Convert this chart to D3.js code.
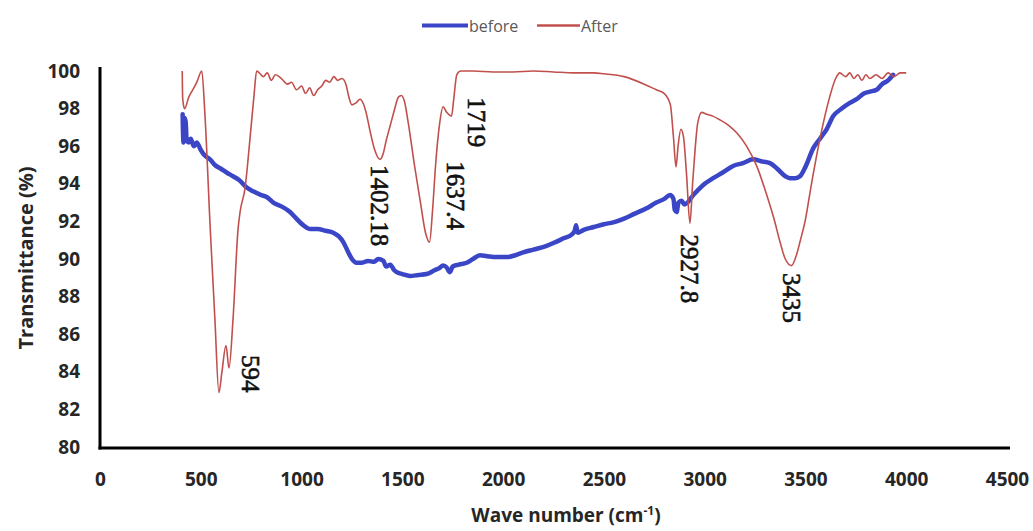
<!DOCTYPE html>
<html>
<head>
<meta charset="utf-8">
<script src="https://cdn.jsdelivr.net/npm/d3@7"></script>
<style>
  html, body { margin: 0; padding: 0; background: #fff; }
  svg { display: block; }
</style>
</head>
<body>
<svg id="chart" width="1033" height="531"></svg>
<script>
// ---- data ----
const seriesNames = ["before", "After"];
const xTicks = [0, 500, 1000, 1500, 2000, 2500, 3000, 3500, 4000, 4500];
const yTicks = [80, 82, 84, 86, 88, 90, 92, 94, 96, 98, 100];

const beforeWn = [410,414,420,425,430,440,450,465,480,500,520,546,570,600,628,660,690,728,760,800,827,860,900,943,970,1008,1040,1080,1120,1157,1185,1207,1230,1250,1273,1300,1330,1360,1380,1406,1420,1440,1460,1472,1500,1538,1580,1620,1660,1680,1703,1720,1736,1750,1780,1819,1850,1885,1920,1968,2018,2060,2100,2150,2216,2260,2300,2340,2355,2362,2370,2400,2450,2500,2547,2600,2650,2712,2760,2800,2828,2845,2852,2861,2870,2885,2900,2915,2943,2970,3000,3042,3090,3141,3190,3240,3280,3324,3360,3400,3423,3450,3473,3500,3539,3572,3605,3638,3680,3720,3754,3790,3820,3853,3880,3910,3935];
const beforeT  = [97.7,96.2,97.5,97.3,96.3,96.2,96.4,96.0,96.2,95.8,95.5,95.3,95.0,94.8,94.6,94.4,94.2,93.8,93.6,93.4,93.3,93.0,92.8,92.5,92.2,91.8,91.6,91.6,91.5,91.4,91.2,90.9,90.4,90.0,89.8,89.8,89.9,89.85,90.0,89.9,89.6,89.7,89.4,89.3,89.2,89.1,89.15,89.2,89.4,89.5,89.65,89.55,89.3,89.6,89.7,89.8,90.0,90.2,90.15,90.1,90.1,90.2,90.35,90.5,90.7,90.9,91.1,91.3,91.5,91.8,91.4,91.55,91.7,91.85,91.95,92.15,92.4,92.7,93.0,93.2,93.4,93.2,92.6,92.5,93.0,93.1,92.9,93.0,93.4,93.7,94.0,94.3,94.6,94.95,95.1,95.3,95.2,95.1,94.8,94.4,94.3,94.3,94.4,94.9,95.9,96.4,96.9,97.6,98.0,98.3,98.5,98.8,98.9,99.0,99.3,99.5,99.8];

const afterWn = [408,410,414,420,440,460,480,505,520,547,570,590,605,625,640,660,685,695,720,745,765,777,790,810,830,850,870,900,930,950,975,1000,1020,1040,1060,1080,1100,1120,1140,1160,1180,1200,1220,1235,1250,1270,1290,1305,1320,1340,1360,1389,1405,1420,1440,1460,1480,1495,1510,1530,1560,1590,1615,1635,1650,1665,1685,1702,1720,1744,1755,1770,1790,1850,1950,2050,2150,2250,2350,2450,2500,2600,2700,2760,2800,2830,2845,2858,2868,2882,2895,2910,2927,2940,2952,2965,2985,3010,3040,3076,3120,3160,3208,3260,3308,3345,3374,3400,3431,3455,3475,3498,3530,3572,3610,3650,3670,3700,3720,3740,3760,3780,3800,3820,3850,3880,3910,3940,3970,4000];
const afterT  = [100,98.6,98.2,98.0,98.6,99.0,99.4,100,97.8,91.6,86.8,82.9,84.0,85.4,84.2,86.8,91.6,92.5,93.8,96.5,98.8,100,99.9,99.7,99.9,99.5,99.8,99.6,99.3,99.4,99.0,99.2,98.8,99.1,98.7,99.0,99.2,99.5,99.4,99.7,99.5,99.6,99.3,98.6,98.2,98.3,98.5,98.3,97.8,96.8,95.9,95.3,95.6,96.3,97.1,97.9,98.6,98.7,98.4,97.2,95.0,93.0,91.4,90.9,92.6,95.0,97.2,98.1,97.8,97.6,98.5,99.8,100,100,99.95,99.95,100,99.95,99.9,99.9,99.85,99.7,99.3,99.0,98.8,98.2,96.5,94.9,96.0,96.9,96.5,94.5,91.9,94.0,95.75,97.2,97.8,97.7,97.6,97.4,97.1,96.7,96.0,94.9,93.4,92.1,90.9,90.0,89.65,90.2,91.0,92.0,94.0,96.4,98.2,99.6,99.9,99.7,99.9,99.6,99.8,99.5,99.8,99.6,99.8,99.6,99.9,99.7,99.9,99.9];

const peakLabels = ["594", "1402.18", "1637.4", "1719", "2927.8", "3435"];
const peakLabelWn = [749, 1389, 1766, 1870, 2927, 3433];
const peakLabelT  = [84.9, 95.0, 95.2, 98.6, 91.3, 89.25];

// ---- drawing ----
const svg = d3.select("#chart");
const x = d3.scaleLinear().domain([0, 4500]).range([100, 1007]);
const y = d3.scaleLinear().domain([80, 100]).range([447, 71]);
const color = d3.scaleOrdinal().domain(seriesNames).range(["#3a46c6", "#c0504d"]);
const widths = {"before": 4.5, "After": 1.6};

const beforeData = beforeWn.map((w, i) => ({w, t: beforeT[i]}));
const afterData = afterWn.map((w, i) => ({w, t: afterT[i]}));

const line = d3.line().x(d => x(d.w)).y(d => y(d.t)).curve(d3.curveMonotoneX);

svg.append("path").datum(beforeData)
  .attr("d", line).attr("fill", "none")
  .attr("stroke", color("before")).attr("stroke-width", widths.before)
  .attr("stroke-linejoin", "round").attr("stroke-linecap", "round");
svg.append("path").datum(afterData)
  .attr("d", line).attr("fill", "none")
  .attr("stroke", color("After")).attr("stroke-width", widths.After)
  .attr("stroke-linejoin", "round");

// axes
const tickFont = "'Open Sans', 'DejaVu Sans', sans-serif";
const gx = svg.append("g").attr("transform", "translate(0,448)")
  .call(d3.axisBottom(x).tickValues(xTicks).tickFormat(d3.format("d")).tickSize(0).tickPadding(25));
const gy = svg.append("g").attr("transform", "translate(100,0)")
  .call(d3.axisLeft(y).tickValues(yTicks).tickFormat(d3.format("d")).tickSize(0).tickPadding(20));
[gx, gy].forEach(g => {
  g.select(".domain").remove();
  g.selectAll("text").attr("font-family", tickFont).attr("font-size", 19)
    .attr("font-weight", "bold").attr("fill", "#262626");
});

// axis lines
svg.append("line").attr("x1", 100).attr("x2", 100).attr("y1", 67).attr("y2", 449.5)
  .attr("stroke", "#000").attr("stroke-width", 3);
svg.append("line").attr("x1", 98.5).attr("x2", 1010).attr("y1", 448).attr("y2", 448)
  .attr("stroke", "#000").attr("stroke-width", 3);

// axis titles
svg.append("text")
  .attr("transform", "translate(25,258) rotate(-90)")
  .attr("text-anchor", "middle").attr("dominant-baseline", "central")
  .attr("font-family", tickFont).attr("font-size", 20).attr("font-weight", "bold")
  .attr("fill", "#262626").text("Transmittance (%)");

const xt = svg.append("text")
  .attr("x", 566).attr("y", 522)
  .attr("text-anchor", "middle")
  .attr("font-family", tickFont).attr("font-size", 19).attr("font-weight", "bold")
  .attr("fill", "#262626");
xt.append("tspan").text("Wave number (cm");
xt.append("tspan").attr("font-size", 12).attr("dy", -7).text("-1");
xt.append("tspan").attr("dy", 7).text(")");

// peak labels
peakLabels.forEach((lab, i) => {
  svg.append("text")
    .attr("transform", `translate(${x(peakLabelWn[i])},${y(peakLabelT[i])}) rotate(90)`)
    .attr("text-anchor", "start").attr("dominant-baseline", "central")
    .attr("font-family", "'Liberation Serif', 'Times New Roman', serif")
    .attr("font-size", 25).attr("fill", "#111")
    .attr("stroke", "#111").attr("stroke-width", 0.6)
    .text(lab);
});

// legend
const legendItems = [
  {name: "before", x1: 422, x2: 468},
  {name: "After", x1: 537, x2: 580}
];
legendItems.forEach(it => {
  svg.append("line").attr("x1", it.x1).attr("x2", it.x2).attr("y1", 25.5).attr("y2", 25.5)
    .attr("stroke", color(it.name)).attr("stroke-width", it.name === "before" ? 4 : 2.5);
  svg.append("text").attr("x", it.x2 + 1).attr("y", 25.5)
    .attr("dominant-baseline", "central")
    .attr("font-family", tickFont).attr("font-size", 16).attr("fill", "#595959")
    .text(it.name);
});
</script>
</body>
</html>
